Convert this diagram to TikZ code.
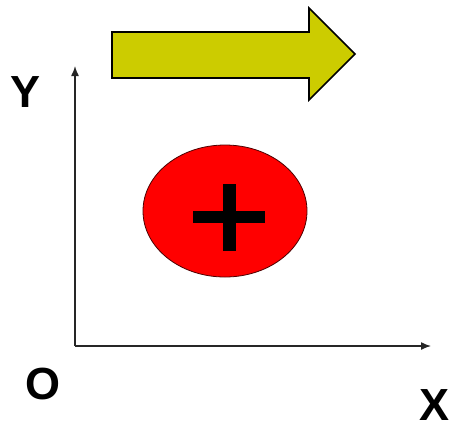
\documentclass[tikz,border=0pt]{standalone}
\usepackage{fontspec}
\setmainfont{Liberation Sans}
\usetikzlibrary{arrows.meta,shapes.geometric}
\definecolor{arrowfill}{RGB}{204,204,0}
\definecolor{blobred}{RGB}{255,0,0}
\begin{document}
\begin{tikzpicture}[x=1pt,y=-1pt,
  axis/.style={line width=1.4pt,draw=black!85,-{Latex[length=10pt,width=8pt]}},
  axlabel/.style={font=\bfseries\fontsize{45}{45}\selectfont,inner sep=0pt},
  bigarrow/.style={fill=arrowfill,draw=black,line width=1.6pt,line join=miter},
  blob/.style={ellipse,fill=blobred,draw=black!70!red,line width=0.8pt,minimum width=164pt,minimum height=132pt,inner sep=0pt},
  plusbar/.style={line width=12pt,draw=black}]
\useasboundingbox (0,0) rectangle (454,429);
% big arrow
\draw[bigarrow] (112,32) -- (309,32) -- (309,8) -- (355,54) -- (309,100) -- (309,78) -- (112,78) -- cycle;
% axes
\coordinate (O) at (75,346);
\coordinate (Ytop) at (75,66);
\coordinate (Xend) at (431,346);
\draw[axis] (O) -- (Ytop);
\draw[axis] (O) -- (Xend);
% labels
\node[axlabel] (ly) at (26,92) {Y};
\node[axlabel] (lo) at (43,384) {O};
\node[axlabel] (lx) at (434,405) {X};
% red blob
\node[blob] (charge) at (225,211) {};
\coordinate (pc) at (229,217);
\draw[plusbar] ([xshift=-36pt]pc) -- ([xshift=36pt]pc);
\draw[plusbar,line width=13pt] ([yshift=-34pt]pc) -- ([yshift=33pt]pc);
\end{tikzpicture}
\end{document}
